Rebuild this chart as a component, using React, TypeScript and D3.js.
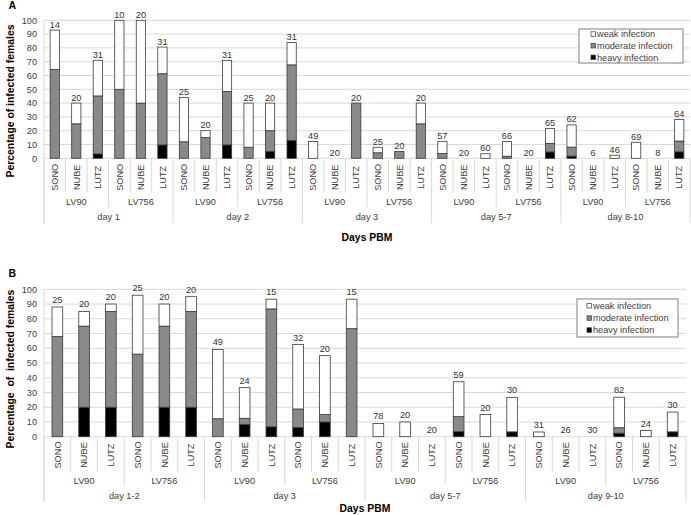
import React from "react";
import * as d3 from "d3";

// ---------- DATA ----------
const populations = ["SONO", "NUBE", "LUTZ"];
const strains = ["LV90", "LV756"];
const daysA = ["day 1", "day 2", "day 3", "day 5-7", "day 8-10"];
const daysB = ["day 1-2", "day 3", "day 5-7", "day 9-10"];
const yTicks = [0, 10, 20, 30, 40, 50, 60, 70, 80, 90, 100];
const seriesNames = ["heavy infection", "moderate infection", "weak infection"];

// Panel A (order: day -> strain -> population)
const heavyA = [0, 0, 3.2, 0, 0, 9.7, 0, 0, 9.7, 0, 5, 12.9, 0, 0, 0, 0, 0, 0, 0, 0, 0, 0, 0, 4.6, 1.6, 0, 0, 0, 0, 4.7];
const moderateA = [64.3, 25, 42, 50, 40, 51.6, 12, 15, 38.7, 8, 15, 54.8, 0, 0, 40, 4, 5, 25, 3.5, 0, 0, 1.5, 0, 6.2, 6.5, 0, 0, 0, 0, 7.8];
const weakA = [28.6, 15, 25.8, 50, 60, 19.3, 32, 5, 22.6, 32, 20, 16.2, 12.2, 0, 0, 4, 0, 15, 8.8, 0, 3.3, 10.6, 0, 10.7, 16.1, 0, 2.2, 11.6, 0, 15.6];
const nA = [14, 20, 31, 10, 20, 31, 25, 20, 31, 25, 20, 31, 49, 20, 20, 25, 20, 20, 57, 20, 60, 66, 20, 65, 62, 6, 46, 69, 8, 64];

// Panel B
const heavyB = [0, 20, 20, 0, 20, 20, 0, 8.3, 6.7, 6.3, 10, 0, 0, 0, 0, 3.4, 0, 3.3, 0, 0, 0, 2.4, 0, 3.3];
const moderateB = [68, 55, 65, 56, 55, 65, 12.2, 4.2, 80, 12.5, 5, 73.3, 0, 0, 0, 10.2, 0, 0, 0, 0, 0, 3.7, 0, 0];
const weakB = [20, 10, 5, 40, 15, 10, 47, 20.8, 6.6, 43.7, 40, 20, 9, 10, 0, 23.7, 15, 23.4, 3.2, 0, 0, 20.7, 4.2, 13.4];
const nB = [25, 20, 20, 25, 20, 20, 49, 24, 15, 32, 20, 15, 78, 20, 20, 59, 20, 30, 31, 26, 30, 82, 24, 30];

// ---------- STYLE ----------
const FONT = "'Liberation Sans', Arial, sans-serif";
const colors: Record<string, string> = {
  "heavy infection": "#000000",
  "moderate infection": "#898989",
  "weak infection": "#ffffff",
};
const GRID = "#d9d9d9";
const TXT = "#404040";

type PanelProps = {
  letter: string;
  days: string[];
  heavy: number[];
  moderate: number[];
  weak: number[];
  n: number[];
  y0: number;
  y100: number;
  left: number;
  right: number;
  barFrac: number;
  labelOff: number;
  l1: number;
  l2: number;
  l3: number;
  lab1: number;
  lab2: number;
  lab3: number;
  titleY: number;
  yTitle: string;
  yTitleCenter: number;
  letterY: number;
  legend: { x: number; y: number; w: number; h: number; rows: number[]; mx: number };
};

function Panel(p: PanelProps) {
  const cats: { key: string; day: string; strain: string; pop: string; i: number }[] = [];
  let i = 0;
  p.days.forEach((d) =>
    strains.forEach((s) =>
      populations.forEach((pop) => {
        cats.push({ key: `${d}|${s}|${pop}`, day: d, strain: s, pop, i });
        i++;
      })
    )
  );
  const x = d3.scaleBand<string>().domain(cats.map((c) => c.key)).range([p.left, p.right]).padding(0);
  const y = d3.scaleLinear().domain([0, 100]).range([p.y0, p.y100]);
  const rows = cats.map((c) => ({
    key: c.key,
    "heavy infection": p.heavy[c.i],
    "moderate infection": p.moderate[c.i],
    "weak infection": p.weak[c.i],
  }));
  const stack = d3.stack<any>().keys(seriesNames)(rows);
  const bw = x.bandwidth() * p.barFrac;
  const totals = cats.map((c) => p.heavy[c.i] + p.moderate[c.i] + p.weak[c.i]);

  // separators
  const seps: { xv: number; len: number }[] = [];
  cats.forEach((c, k) => {
    const xv = x(c.key)!;
    let len = p.l1;
    if (k % 6 === 0) len = p.l3;
    else if (k % 3 === 0) len = p.l2;
    seps.push({ xv, len });
  });
  seps.push({ xv: p.right, len: p.l3 });

  const strainGroups: { label: string; x0: number; x1: number }[] = [];
  const dayGroups: { label: string; x0: number; x1: number }[] = [];
  p.days.forEach((d, di) => {
    const bwid = x.bandwidth();
    dayGroups.push({ label: d, x0: p.left + di * 6 * bwid, x1: p.left + (di + 1) * 6 * bwid });
    strains.forEach((s, si) => {
      strainGroups.push({
        label: s,
        x0: p.left + (di * 6 + si * 3) * bwid,
        x1: p.left + (di * 6 + si * 3 + 3) * bwid,
      });
    });
  });

  const lg = p.legend;
  const legendOrder = ["weak infection", "moderate infection", "heavy infection"];

  return (
    <g>
      <text x={8.5} y={p.letterY} fontFamily={FONT} fontWeight="bold" fontSize={10.5} fill="#000">
        {p.letter}
      </text>
      {yTicks.map((t) => (
        <g key={t}>
          {t > 0 && <line x1={p.left} x2={p.right} y1={y(t)} y2={y(t)} stroke={GRID} strokeWidth={1} />}
          <text x={37} y={y(t)} dy="0.35em" textAnchor="end" fontFamily={FONT} fontSize={9.2} fill={TXT}>
            {t}
          </text>
        </g>
      ))}
      {/* axes */}
      <line x1={p.left} x2={p.left} y1={p.y100} y2={p.y0 + p.l3} stroke={GRID} strokeWidth={1} />
      <line x1={p.left} x2={p.right} y1={p.y0} y2={p.y0} stroke={GRID} strokeWidth={1} />
      {seps.map((s, k) => (
        <line key={k} x1={s.xv} x2={s.xv} y1={p.y0} y2={p.y0 + s.len} stroke={GRID} strokeWidth={1} />
      ))}
      {/* bars */}
      {stack.map((layer) => (
        <g key={layer.key}>
          {layer.map((d: any, k: number) => {
            const h = y(d[0]) - y(d[1]);
            if (h <= 0.01) return null;
            const cx = x(cats[k].key)! + x.bandwidth() / 2;
            return (
              <rect
                key={k}
                x={cx - bw / 2}
                y={y(d[1])}
                width={bw}
                height={h}
                fill={colors[layer.key]}
                stroke="#3a3a3a"
                strokeWidth={0.8}
              />
            );
          })}
        </g>
      ))}
      {/* n labels */}
      {cats.map((c, k) => (
        <text
          key={c.key}
          x={x(c.key)! + x.bandwidth() / 2}
          y={y(totals[k]) - p.labelOff}
          textAnchor="middle"
          fontFamily={FONT}
          fontSize={9.2}
          fill="#333"
        >
          {p.n[k]}
        </text>
      ))}
      {/* category labels */}
      {cats.map((c) => {
        const cx = x(c.key)! + x.bandwidth() / 2;
        const cy = p.y0 + p.lab1;
        return (
          <text
            key={"l" + c.key}
            transform={`translate(${cx},${cy}) rotate(-90)`}
            textAnchor="middle"
            dy="0.35em"
            fontFamily={FONT}
            fontSize={9.2}
            fill={TXT}
          >
            {c.pop}
          </text>
        );
      })}
      {strainGroups.map((g, k) => (
        <text key={"s" + k} x={(g.x0 + g.x1) / 2} y={p.y0 + p.lab2} textAnchor="middle" fontFamily={FONT} fontSize={9.2} fill={TXT}>
          {g.label}
        </text>
      ))}
      {dayGroups.map((g, k) => (
        <text key={"d" + k} x={(g.x0 + g.x1) / 2} y={p.y0 + p.lab3} textAnchor="middle" fontFamily={FONT} fontSize={9.2} fill={TXT}>
          {g.label}
        </text>
      ))}
      <text x={(p.left + p.right) / 2} y={p.titleY} textAnchor="middle" fontFamily={FONT} fontWeight="bold" fontSize={10.4} fill="#000">
        Days PBM
      </text>
      <text
        transform={`translate(14,${p.yTitleCenter}) rotate(-90)`}
        textAnchor="middle"
        fontFamily={FONT}
        fontWeight="bold"
        fontSize={10.4}
        fill="#000"
        style={{ whiteSpace: "pre" }}
      >
        {p.yTitle}
      </text>
      {/* legend */}
      <rect x={lg.x} y={lg.y} width={lg.w} height={lg.h} fill="#fff" stroke="#808080" strokeWidth={1} />
      {legendOrder.map((nm, k) => (
        <g key={nm}>
          <rect x={lg.mx} y={lg.rows[k] - 2.2} width={4.5} height={4.5} fill={colors[nm]} stroke="#3a3a3a" strokeWidth={0.7} />
          <text x={lg.mx + 6} y={lg.rows[k]} dy="0.35em" fontFamily={FONT} fontSize={9.2} fill={TXT}>
            {nm}
          </text>
        </g>
      ))}
    </g>
  );
}

export default function App() {
  return (
    <svg
      width={691}
      height={515}
      style={{ position: "absolute", left: 0, top: 0, background: "#fff" }}
    >
      <rect x={0} y={0} width={691} height={515} fill="#fff" />
      <Panel
        letter="A"
        days={daysA}
        heavy={heavyA}
        moderate={moderateA}
        weak={weakA}
        n={nA}
        y0={158.3}
        y100={20.3}
        left={44}
        right={690}
        barFrac={0.43}
        labelOff={2.5}
        l1={34}
        l2={49}
        l3={65}
        lab1={19}
        lab2={47}
        lab3={62}
        titleY={241}
        yTitle="Percentage of infected females"
        yTitleCenter={101}
        letterY={8.5}
        legend={{ x: 579, y: 29, w: 104, h: 34, rows: [34, 45.7, 57.3], mx: 591 }}
      />
      <Panel
        letter="B"
        days={daysB}
        heavy={heavyB}
        moderate={moderateB}
        weak={weakB}
        n={nB}
        y0={436.7}
        y100={289.3}
        left={44}
        right={686}
        barFrac={0.4}
        labelOff={4}
        l1={35}
        l2={48}
        l3={65}
        lab1={18.3}
        lab2={47}
        lab3={62}
        titleY={512}
        yTitle="Percentage  of  infected females"
        yTitleCenter={369}
        letterY={276.7}
        legend={{ x: 577, y: 299, w: 101, h: 38, rows: [305.7, 318, 330], mx: 587 }}
      />
    </svg>
  );
}
